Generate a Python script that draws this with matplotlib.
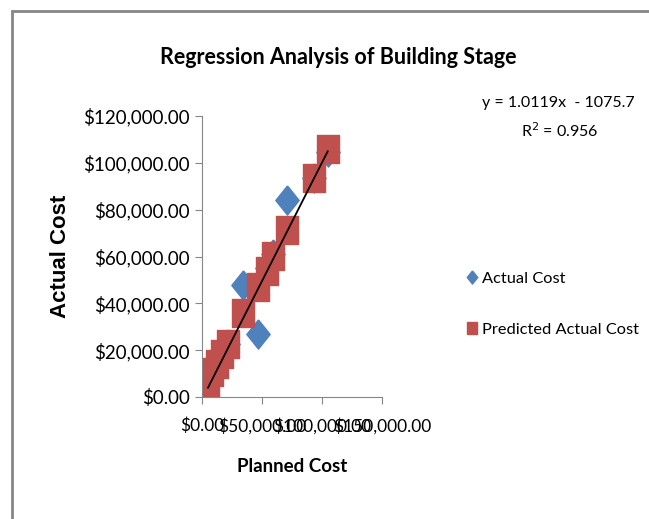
import numpy as np
import matplotlib.pyplot as plt
from matplotlib.path import Path
from matplotlib.patches import Rectangle
from matplotlib.ticker import FuncFormatter

# values
planned = [5000, 8000, 12200, 16400, 21900, 34500, 46700, 53900, 59400, 70800, 93300, 104750]
actual = [6000, 10000, 14000, 18000, 22700, 47800, 27000, 55000, 61000, 84300, 93500, 104500]
predicted = [4200, 10500, 14000, 18200, 22500, 36000, 46800, 54000, 60300, 71400, 93400, 105800]
slope, intercept = 1.0119, -1075.7
r2 = 0.956

grey = '#868686'
narrow = ['Lato', 'DejaVu Sans']

fig = plt.figure(figsize=(6.49, 5.19), dpi=100)
fig.patches.append(Rectangle((12 / 649, -0.1), 1.2, (519 - 11) / 519 + 0.1,
                             transform=fig.transFigure, fill=False,
                             edgecolor=grey, linewidth=2))

ax = fig.add_axes([202 / 649, (519 - 397) / 519, 180 / 649, 281 / 519])

# stretched markers like the original (taller than wide)
diamond = Path([(0, 0.5), (0.4, 0), (0, -0.5), (-0.4, 0), (0, 0.5)])
square = Path([(-0.39, -0.5), (0.39, -0.5), (0.39, 0.5), (-0.39, 0.5), (-0.39, -0.5)])

ax.plot(planned, actual, linestyle='none', marker=diamond, markersize=21,
        color='#4F81BD', label='Actual Cost')
ax.plot(planned, predicted, linestyle='none', marker=square, markersize=19.5,
        color='#C0504D', label='Predicted Actual Cost')
xs = np.array([min(planned), max(planned)])
ax.plot(xs, slope * xs + intercept, color='black', linewidth=1.3)

ax.set_xlim(0, 150000)
ax.set_ylim(0, 120000)
ax.set_xticks([0, 50000, 100000, 150000])
ax.set_yticks(range(0, 120001, 20000))
money = FuncFormatter(lambda v, p: '${:,.2f}'.format(v))
ax.xaxis.set_major_formatter(money)
ax.yaxis.set_major_formatter(money)
for s in ['top', 'right']:
    ax.spines[s].set_visible(False)
for s in ['left', 'bottom']:
    ax.spines[s].set_color(grey)
ax.tick_params(direction='out', length=5, color=grey, labelsize=13.5, pad=4)
ax.tick_params(axis='x', labelsize=12.5, pad=10)
for lab in ax.get_xticklabels() + ax.get_yticklabels():
    lab.set_family(narrow)

fig.text(338 / 649, 1 - 57 / 519, 'Regression Analysis of Building Stage',
         ha='center', va='center', fontsize=15.5, fontweight='bold', family=narrow)
fig.text(292 / 649, 1 - 467 / 519, 'Planned Cost', ha='center', va='center',
         fontsize=13.5, fontweight='bold', family=narrow)
fig.text(60 / 649, 1 - 256 / 519, 'Actual Cost', ha='center', va='center',
         rotation=90, fontsize=16, fontweight='bold', family='Liberation Sans')

fig.text(558 / 649, 1 - 103 / 519, 'y = 1.0119x  - 1075.7', ha='center', va='center',
         fontsize=11.5, family=narrow)
fig.text(560 / 649, 1 - 131 / 519, 'R$^2$ = {}'.format(r2), ha='center', va='center',
         fontsize=11.5, family=narrow)

leg = fig.legend(loc='upper left', bbox_to_anchor=(452 / 649, 1 - 257 / 519),
                 frameon=False, prop={'family': narrow, 'size': 11.8},
                 handlelength=0.6, handletextpad=0.35, labelspacing=2.2,
                 markerscale=0.45)

plt.savefig('out.png', dpi=100)
